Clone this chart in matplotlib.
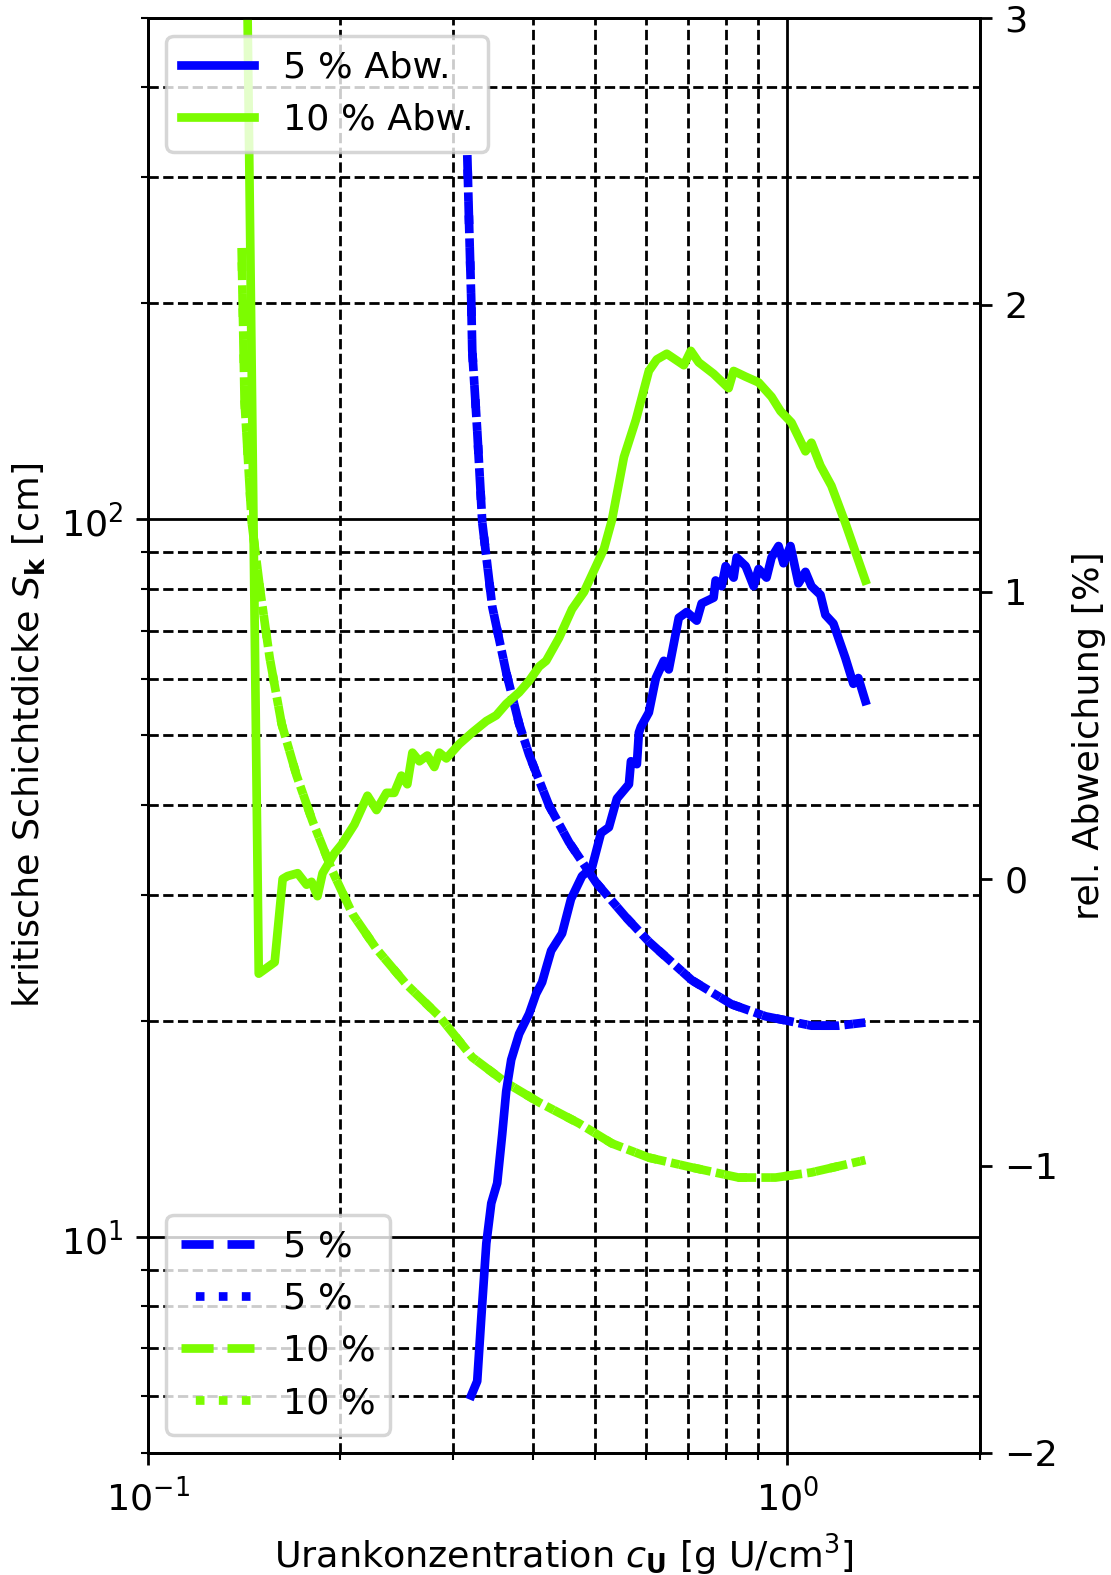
import matplotlib.pyplot as plt

# kritische Schichtdicke [cm] ueber Urankonzentration [g U/cm^3]
c_5 = [0.3157, 0.3180, 0.3202, 0.3214, 0.3272, 0.3332, 0.3454, 0.3632, 0.3805,
       0.3944, 0.4239, 0.4553, 0.5018, 0.5590, 0.6070, 0.7084, 0.8177, 0.9241,
       1.0036, 1.0900, 1.2012, 1.3235]
sk_5 = [322, 252, 203, 172, 133, 99, 75.6, 61.2, 51.9,
        47.0, 39.9, 35.5, 31.2, 27.9, 25.8, 22.8, 21.1, 20.3,
        20.0, 19.7, 19.7, 19.9]

c_10 = [0.1401, 0.1416, 0.1453, 0.1495, 0.1550, 0.1618, 0.1707, 0.1808, 0.1944,
        0.2088, 0.2277, 0.2535, 0.2855, 0.3214, 0.3632, 0.4089, 0.4720, 0.5314,
        0.6070, 0.7084, 0.8386, 0.9579, 1.0900, 1.3235]
sk_10 = [239, 146, 99, 80.6, 64.1, 51.9, 44.0, 38.0, 32.3,
         28.2, 25.2, 22.5, 20.3, 17.8, 16.4, 15.4, 14.4, 13.5,
         12.9, 12.5, 12.1, 12.1, 12.3, 12.8]

# relative Abweichung [%]
c_abw5 = [0.3202, 0.3272, 0.3320, 0.3381, 0.3442, 0.3516, 0.3580, 0.3632, 0.3698,
          0.3805, 0.3944, 0.4045, 0.4133, 0.4194, 0.4270, 0.4441, 0.4586, 0.4772,
          0.4946, 0.5109, 0.5257, 0.5411, 0.5650, 0.5691, 0.5814, 0.5856, 0.5899,
          0.6070, 0.6225, 0.6406, 0.6522, 0.6761, 0.6958, 0.7212, 0.7341, 0.7664,
          0.7720, 0.7889, 0.8003, 0.8237, 0.8326, 0.8602, 0.8851, 0.9012, 0.9273,
          0.9441, 0.9683, 0.9857, 1.0108, 1.0403, 1.0668, 1.0900, 1.1259, 1.1462,
          1.1797, 1.2317, 1.2676, 1.2906, 1.3235]
abw_5 = [-1.80, -1.75, -1.53, -1.27, -1.13, -1.06, -0.89, -0.74, -0.63,
         -0.54, -0.47, -0.40, -0.36, -0.31, -0.25, -0.19, -0.07, 0.01,
         0.04, 0.16, 0.18, 0.28, 0.33, 0.41, 0.40, 0.51, 0.53,
         0.58, 0.70, 0.76, 0.73, 0.91, 0.93, 0.90, 0.96, 0.98,
         1.04, 1.02, 1.09, 1.05, 1.12, 1.09, 1.02, 1.08, 1.05,
         1.12, 1.16, 1.10, 1.16, 1.03, 1.07, 1.02, 0.99, 0.92,
         0.89, 0.77, 0.68, 0.70, 0.62]

c_abw10 = [0.1428, 0.1490, 0.1578, 0.1624, 0.1653, 0.1714, 0.1770, 0.1802, 0.1841,
           0.1875, 0.1958, 0.2008, 0.2103, 0.2204, 0.2277, 0.2360, 0.2427, 0.2490,
           0.2544, 0.2591, 0.2657, 0.2734, 0.2804, 0.2855, 0.2928, 0.3067, 0.3214,
           0.3381, 0.3504, 0.3632, 0.3805, 0.3944, 0.4089, 0.4194, 0.4393, 0.4603,
           0.4806, 0.5018, 0.5164, 0.5314, 0.5549, 0.5794, 0.6070, 0.6246, 0.6475,
           0.6884, 0.7060, 0.7264, 0.7664, 0.8089, 0.8237, 0.8602, 0.9012, 0.9441,
           0.9752, 1.0145, 1.0668, 1.0900, 1.1259, 1.1712, 1.2317, 1.2767, 1.3235]
abw_10 = [3.2, -0.33, -0.29, 0.0, 0.01, 0.02, -0.02, -0.01, -0.06,
          0.02, 0.09, 0.12, 0.19, 0.29, 0.24, 0.30, 0.30, 0.36,
          0.33, 0.44, 0.41, 0.43, 0.39, 0.44, 0.42, 0.47, 0.51,
          0.55, 0.57, 0.61, 0.65, 0.69, 0.74, 0.76, 0.84, 0.94,
          1.00, 1.09, 1.15, 1.25, 1.47, 1.60, 1.77, 1.81, 1.83,
          1.79, 1.84, 1.80, 1.76, 1.71, 1.77, 1.75, 1.73, 1.68,
          1.63, 1.59, 1.49, 1.52, 1.44, 1.37, 1.24, 1.14, 1.04]

blau = 'blue'
gruen = 'lawngreen'
lw = 2.5
gepunktet = (1.0, (1, 1.65))  # Punkte fallen in die Luecken der Striche

plt.rcParams['font.size'] = 10.5

fig = plt.figure(figsize=(1111 / 250, 1575 / 250), dpi=250)
ax1 = fig.add_axes([0.1332, 0.0775, 0.7489, 0.9111])

ax1.plot(c_5, sk_5, '--', color=blau, lw=lw, label='5 %')
ax1.plot(c_5, sk_5, linestyle=gepunktet, color=blau, lw=lw, label='5 %')
ax1.plot(c_10, sk_10, '--', color=gruen, lw=lw, label='10 %')
ax1.plot(c_10, sk_10, linestyle=gepunktet, color=gruen, lw=lw, label='10 %')
ax1.set_xscale('log')
ax1.set_yscale('log')
ax1.set_xlim(0.1, 2)
ax1.set_ylim(5, 500)
ax1.grid(True, which='major', color='k', linestyle='-')
ax1.grid(True, which='minor', color='k', linestyle='--')
ax1.set_xlabel(r'Urankonzentration $c_\mathbf{U}$ [g U/cm$^3$]')
ax1.set_ylabel(r'kritische Schichtdicke $S_\mathbf{k}$ [cm]')
ax1.legend(loc='lower left')

ax2 = ax1.twinx()
ax2.plot(c_abw5, abw_5, '-', color=blau, lw=lw, label='5 % Abw.')
ax2.plot(c_abw10, abw_10, '-', color=gruen, lw=lw, label='10 % Abw.')
ax2.set_ylim(-2, 3)
ax2.set_ylabel('rel. Abweichung [%]')
ax2.legend(loc='upper left')

fig.savefig('out.png', dpi=250)
